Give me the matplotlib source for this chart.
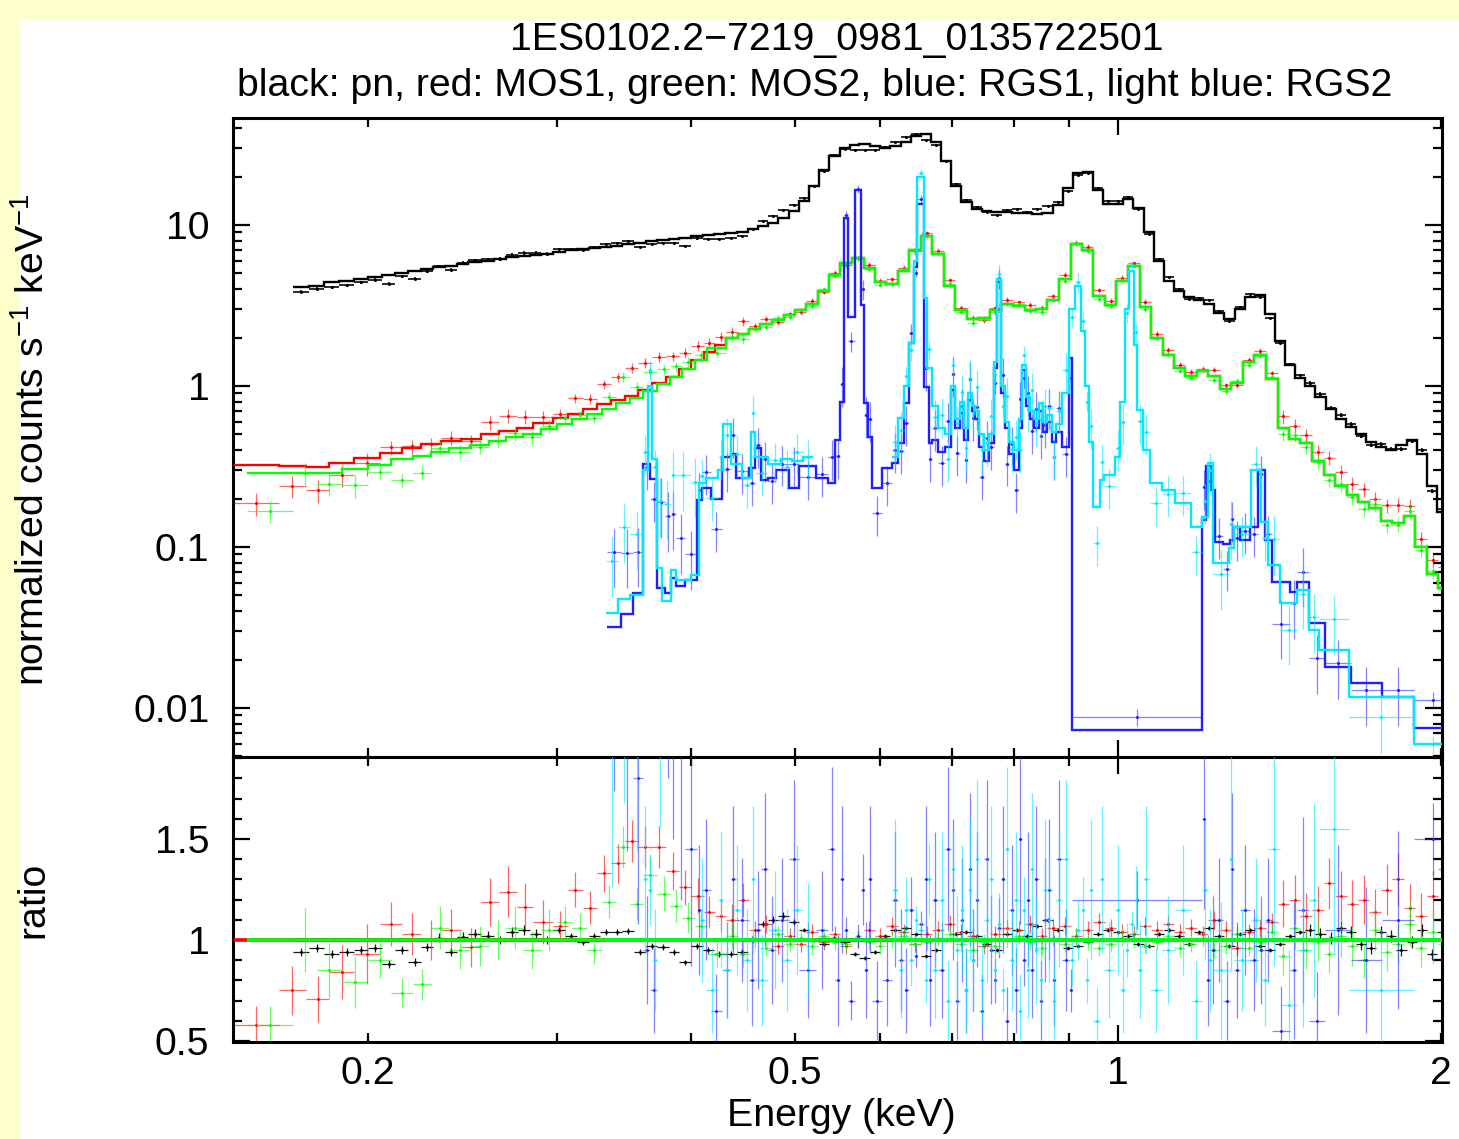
import numpy as np
import matplotlib
matplotlib.use("Agg")
import matplotlib.pyplot as plt
from matplotlib.patches import Rectangle
from matplotlib.ticker import (FixedLocator, FuncFormatter, LogLocator,
                               MultipleLocator, NullFormatter)

plt.rcParams['font.family'] = ['Liberation Sans', 'DejaVu Sans']
plt.rcParams['mathtext.fontset'] = 'custom'
plt.rcParams['mathtext.rm'] = 'Liberation Sans'

FS = 28.3

# ---------------- EPIC-pn (black) ----------------
pn_edges = [0.170, 0.176, 0.182, 0.188, 0.194, 0.200, 0.206, 0.212, 0.218, 0.224,
            0.230, 0.236, 0.242, 0.248, 0.255, 0.262, 0.269, 0.276, 0.283, 0.290,
            0.297, 0.305, 0.313, 0.321, 0.329, 0.337, 0.345, 0.354, 0.363, 0.372,
            0.381, 0.390, 0.400, 0.410, 0.420, 0.430, 0.441,
            0.452, 0.462, 0.472, 0.482, 0.493, 0.504, 0.515, 0.526, 0.538, 0.550,
            0.562, 0.574, 0.587, 0.600, 0.613, 0.627, 0.641, 0.655, 0.669, 0.684,
            0.699, 0.714, 0.730, 0.746, 0.762, 0.779, 0.796, 0.814, 0.832, 0.850,
            0.869, 0.888, 0.907, 0.927, 0.947, 0.968, 0.989, 1.011, 1.033, 1.056,
            1.079, 1.103, 1.127, 1.152, 1.177, 1.203, 1.229, 1.256, 1.284, 1.312,
            1.341, 1.370, 1.400, 1.431, 1.462, 1.494, 1.527, 1.561, 1.595, 1.630,
            1.666, 1.703, 1.740, 1.778, 1.817, 1.857, 1.898, 1.940, 1.983, 2.027]
pn_model = [4.1, 4.2, 4.4, 4.5, 4.65, 4.75, 4.9, 5.05, 5.2, 5.35,
            5.5, 5.6, 5.75, 5.85, 6.0, 6.15, 6.3, 6.4, 6.55, 6.65,
            6.8, 6.95, 7.05, 7.2, 7.3, 7.45, 7.6, 7.75, 7.9, 8.05,
            8.2, 8.35, 8.5, 8.65, 8.8, 8.95, 9.1,
            9.4, 9.8, 10.3, 11.0, 12.2, 14.0, 17.5, 22.0, 27.0, 30.0,
            31.5, 32.0, 31.0, 30.0, 31.0, 33.0, 35.5, 36.5, 33.0, 25.0,
            17.5, 13.8, 12.6, 12.3, 12.1, 12.0, 11.9, 11.8, 11.7, 11.9,
            13.3, 17.0, 21.0, 21.2, 16.5, 13.5, 13.6, 14.6, 12.8, 9.0,
            6.0, 4.5, 3.9, 3.55, 3.4, 3.25, 2.85, 2.6, 3.0, 3.55,
            3.7, 2.8, 1.9, 1.35, 1.12, 1.0, 0.86, 0.72, 0.62, 0.56,
            0.50, 0.45, 0.42, 0.40, 0.43, 0.46, 0.38, 0.24, 0.165]
pn_ratio = [0.94, 0.96, 0.93, 0.94, 0.95, 0.96, 0.88, 0.95, 0.89, 0.965,
            1.01, 0.94, 1.015, 1.03, 1.02, 1.00, 1.04, 1.05, 1.03, 1.00,
            1.05, 1.02, 0.99, 1.02, 1.04, 1.04, 1.045, 0.94, 0.97, 0.965,
            0.94, 0.89, 0.97, 0.95, 0.93, 0.93, 0.94,
            1.00, 1.08, 1.10, 1.12, 1.09, 1.05, 1.00, 0.98, 1.01, 0.99,
            0.93, 0.91, 0.94, 1.02, 1.05, 1.06, 1.03, 0.92, 0.95, 1.00,
            1.03, 1.04, 1.02, 0.98, 0.95, 1.03, 1.05, 1.02, 1.07, 1.10,
            1.05, 0.96, 0.97, 0.99, 1.03, 1.05, 1.04, 1.02, 0.98, 0.97,
            1.03, 1.05, 1.02, 0.98, 1.04, 1.06, 1.02, 0.97, 1.03, 1.05,
            0.97, 0.95, 0.98, 1.02, 1.04, 1.05, 1.03, 1.01, 1.06, 1.04,
            0.98, 0.96, 1.04, 1.02, 0.95, 0.99, 1.05, 0.93, 1.04]
pn_err_bounds = [0.30, 0.50, 1.50]
pn_err_rel = [0.022, 0.015, 0.010, 0.030]

# ---------------- MOS1 (red) / MOS2 (green) ----------------
mos1_lo_edges = [0.150, 0.165, 0.175, 0.184, 0.194, 0.205, 0.215, 0.224, 0.234, 0.244,
                 0.255, 0.265, 0.275, 0.285, 0.297, 0.307, 0.317, 0.327, 0.337, 0.347,
                 0.357, 0.368, 0.379, 0.390, 0.400, 0.411, 0.421]
mos1_lo_model = [0.322, 0.318, 0.316, 0.333, 0.355, 0.385, 0.41, 0.435, 0.455, 0.47,
                 0.50, 0.525, 0.55, 0.585, 0.63, 0.67, 0.72, 0.77, 0.82, 0.87,
                 0.95, 1.04, 1.14, 1.28, 1.45, 1.62, 1.80]
mos1_lo_ratio = [0.58, 0.75, 0.71, 0.84, 0.93, 1.08, 1.03, 1.00, 1.05, 0.965,
                 1.19, 1.24, 1.165, 1.09, 1.07, 1.25, 1.16, 1.33, 1.38, 1.49,
                 1.46, 1.46, 1.34, 1.26, 1.22, 1.14, 1.12]

mos2_lo_edges = [0.154, 0.170, 0.179, 0.189, 0.200, 0.210, 0.220, 0.229, 0.238, 0.249,
                 0.259, 0.269, 0.279, 0.290, 0.300, 0.310, 0.320, 0.330, 0.340, 0.351,
                 0.361, 0.372, 0.382, 0.392, 0.403, 0.414]
mos2_lo_model = [0.288, 0.288, 0.29, 0.305, 0.325, 0.35, 0.37, 0.39, 0.41, 0.43,
                 0.455, 0.48, 0.505, 0.54, 0.58, 0.62, 0.67, 0.72, 0.78, 0.84,
                 0.93, 1.03, 1.13, 1.27, 1.45, 1.72]
mos2_lo_ratio = [0.58, 1.00, 0.85, 0.79, 0.90, 0.74, 0.78, 1.06, 0.95, 0.97,
                 1.00, 1.06, 0.95, 1.05, 1.09, 1.06, 0.95, 1.19, 1.46, 1.18,
                 1.32, 1.23, 1.17, 1.11, 1.07, 0.93]

mos_hi_edges = [0.431, 0.442, 0.453, 0.464, 0.476, 0.488, 0.500, 0.512, 0.525, 0.538,
                0.551, 0.565, 0.579, 0.593, 0.608, 0.623, 0.639, 0.655, 0.671, 0.688,
                0.705, 0.723, 0.741, 0.759, 0.778, 0.798, 0.818, 0.838, 0.859, 0.881,
                0.903, 0.925, 0.948, 0.972, 0.996, 1.021, 1.047, 1.073, 1.100, 1.127,
                1.155, 1.184, 1.214, 1.244, 1.275, 1.307, 1.340, 1.373, 1.408, 1.443,
                1.479, 1.516, 1.554, 1.593, 1.633, 1.673, 1.715, 1.758, 1.802, 1.847,
                1.893, 1.941, 1.989, 2.039]
mos_hi_model = [1.98, 2.1, 2.25, 2.42, 2.58, 2.75, 2.95, 3.25, 3.9, 4.9,
                5.8, 6.2, 5.4, 4.4, 4.3, 5.2, 7.0, 8.6, 6.6, 4.2,
                2.95, 2.6, 2.65, 2.95, 3.25, 3.15, 2.95, 3.0, 3.4, 4.6,
                7.6, 7.0, 3.6, 3.2, 4.5, 5.6, 3.1, 2.0, 1.55, 1.3,
                1.15, 1.24, 1.15, 0.96, 1.05, 1.40, 1.56, 1.10, 0.55, 0.47,
                0.44, 0.34, 0.28, 0.24, 0.21, 0.19, 0.175, 0.145, 0.14, 0.155,
                0.10, 0.068, 0.056]
mos1_hi_ratio = [1.10, 1.20, 1.05, 1.08, 0.97, 1.02, 0.98, 1.04, 0.99, 1.03,
                 0.97, 1.00, 1.05, 1.02, 1.07, 1.04, 0.98, 1.03, 1.05, 1.08,
                 1.04, 1.02, 0.97, 1.03, 1.06, 1.05, 1.08, 1.02, 1.06, 1.07,
                 1.02, 1.05, 1.09, 1.06, 1.04, 1.03, 1.07, 1.05, 1.08, 1.04,
                 1.06, 1.03, 1.10, 1.05, 0.96, 1.04, 1.06, 1.09, 1.18, 1.20,
                 1.12, 1.15, 1.28, 1.22, 1.18, 1.20, 1.14, 1.25, 1.30, 1.16,
                 1.12, 1.22, 1.35]
mos2_hi_ratio = [1.02, 0.93, 1.00, 0.96, 1.03, 0.98, 1.01, 0.97, 1.02, 0.99,
                 0.98, 1.01, 0.99, 0.97, 1.00, 1.02, 0.98, 0.99, 1.01, 1.03,
                 0.98, 0.95, 0.99, 0.97, 1.00, 1.02, 0.99, 0.96, 1.01, 0.98,
                 1.01, 0.99, 0.96, 0.98, 1.01, 1.00, 0.97, 0.99, 1.02, 0.96,
                 0.98, 1.01, 0.95, 0.97, 1.03, 0.96, 0.99, 1.04, 0.92, 1.06,
                 0.95, 0.99, 0.93, 1.02, 0.97, 0.90, 1.05, 0.94, 0.98, 1.08,
                 0.96, 1.04, 0.98]
mos_err_bounds = [0.20, 0.30, 0.45, 1.40]
mos_err_rel = [0.16, 0.10, 0.07, 0.04, 0.10]

# ---------------- RGS1 (blue) ----------------
rgs1_edges = [0.334, 0.344, 0.353, 0.361, 0.366, 0.372, 0.378, 0.383, 0.387, 0.395,
              0.405, 0.409, 0.417, 0.427, 0.436, 0.440, 0.453, 0.459, 0.465, 0.472,
              0.480, 0.493, 0.504, 0.523, 0.537, 0.545, 0.551, 0.555, 0.560, 0.568,
              0.576, 0.580, 0.585, 0.590, 0.602, 0.615, 0.624, 0.631, 0.638, 0.645,
              0.650, 0.659, 0.666, 0.670, 0.680, 0.690, 0.698, 0.704, 0.712, 0.718,
              0.724, 0.730, 0.736, 0.742, 0.750, 0.758, 0.766, 0.771, 0.778, 0.784,
              0.792, 0.800, 0.808, 0.813, 0.820, 0.827, 0.835, 0.843, 0.851, 0.859,
              0.867, 0.875, 0.887, 0.900, 0.906, 1.196, 1.208, 1.220, 1.232, 1.252,
              1.272, 1.281, 1.298, 1.326, 1.350, 1.370, 1.390, 1.447, 1.469, 1.506,
              1.560, 1.647, 1.763, 1.887, 2.050]
rgs1_model = [0.032, 0.0385, 0.052, 0.33, 0.265, 0.056, 0.052, 0.064, 0.057, 0.062,
              0.196, 0.233, 0.198, 0.36, 0.38, 0.27, 0.31, 0.41, 0.26, 0.27,
              0.30, 0.233, 0.32, 0.27, 0.25, 0.46, 0.79, 11.0, 2.7, 16.5,
              3.2, 0.78, 0.48, 0.233, 0.31, 0.333, 0.44, 0.785, 1.85, 5.5,
              13.5, 0.99, 0.44, 0.46, 0.39, 0.42, 0.95, 0.55, 0.68, 0.46,
              0.82, 0.70, 0.62, 0.42, 0.34, 0.44, 1.3, 4.4, 0.9, 0.55,
              0.38, 0.30, 0.55, 1.25, 0.75, 0.62, 0.55, 0.70, 0.52, 0.60,
              0.45, 0.52, 0.42, 1.5, 0.0073, 0.147, 0.32, 0.226, 0.107, 0.105,
              0.11, 0.133, 0.11, 0.133, 0.30, 0.11, 0.0607, 0.0525, 0.061, 0.0339,
              0.018, 0.0143, 0.0117, 0.0075]
rgs1_ratio = [2.9, 2.4, 1.8, 0.95, 0.75, 3.4, 3.0, 2.5, 2.0, 1.45,
              1.15, 1.25, 0.65, 0.85, 1.30, 1.10, 0.80, 1.05, 1.35, 0.95,
              1.10, 1.40, 0.85, 1.05, 1.45, 0.80, 1.30, 1.05, 0.70, 1.02,
              1.25, 0.85, 1.30, 0.70, 0.80, 1.20, 0.90, 0.75, 1.15, 0.92,
              1.08, 1.30, 0.80, 1.20, 0.85, 1.45, 1.25, 0.70, 1.10, 0.75,
              1.35, 0.90, 1.20, 0.65, 1.40, 0.95, 0.80, 1.06, 1.30, 0.60,
              1.15, 0.75, 1.50, 0.90, 1.20, 0.85, 1.30, 0.70, 1.10, 1.25,
              0.80, 1.40, 0.90, 0.75, 1.20, 1.60, 0.80, 0.95, 1.10, 0.70,
              1.35, 0.85, 1.15, 0.90, 0.95, 1.10, 0.55, 0.85, 1.15, 0.60,
              1.05, 0.90, 1.10, 1.50]

# ---------------- RGS2 (light blue), two pieces either side of the dead CCD ----------------
rgs2a_edges = [0.333, 0.342, 0.351, 0.3605, 0.3643, 0.3674, 0.372, 0.376, 0.383, 0.387,
               0.3995, 0.4066, 0.4125, 0.424, 0.428, 0.436, 0.446, 0.455, 0.459, 0.472,
               0.485, 0.497, 0.508, 0.519]
rgs2a_model = [0.039, 0.0475, 0.05, 0.30, 1.0, 0.35, 0.074, 0.046, 0.072, 0.062,
               0.067, 0.25, 0.27, 0.30, 0.58, 0.33, 0.27, 0.52, 0.36, 0.33,
               0.35, 0.34, 0.36]
rgs2a_ratio = [2.1, 2.8, 2.4, 1.3, 1.25, 0.9, 2.6, 4.0, 3.9, 4.5,
               3.8, 1.1, 0.75, 1.2, 0.85, 1.15, 0.9, 1.3, 0.8, 1.05,
               0.9, 1.15, 1.0]

rgs2b_edges = [0.615, 0.624, 0.631, 0.638, 0.645, 0.650, 0.659, 0.664, 0.670, 0.680,
               0.690, 0.698, 0.704, 0.712, 0.718, 0.724, 0.730, 0.736, 0.742, 0.750,
               0.758, 0.766, 0.771, 0.778, 0.784, 0.792, 0.800, 0.808, 0.813, 0.820,
               0.827, 0.835, 0.843, 0.851, 0.859, 0.867, 0.875, 0.887, 0.900, 0.912,
               0.924, 0.932, 0.940, 0.948, 0.962, 0.970, 0.993, 1.005, 1.015, 1.024,
               1.035, 1.042, 1.054, 1.070, 1.098, 1.130, 1.170, 1.196, 1.212, 1.226,
               1.268, 1.281, 1.330, 1.360, 1.380, 1.415, 1.469, 1.506, 1.539, 1.640,
               1.887, 2.050]
rgs2b_model = [0.36, 0.63, 1.0, 1.85, 6.0, 20.0, 3.5, 1.3, 0.75, 0.55,
               0.50, 1.0, 0.62, 0.80, 0.55, 0.90, 0.75, 0.70, 0.50, 0.40,
               0.50, 1.4, 4.6, 1.0, 0.60, 0.45, 0.40, 0.62, 1.35, 0.85,
               0.70, 0.62, 0.78, 0.60, 0.66, 0.52, 0.58, 0.90, 3.0, 4.2,
               2.2, 1.0, 0.45, 0.177, 0.26, 0.28, 0.36, 0.8, 3.0, 5.2,
               1.8, 0.71, 0.40, 0.25, 0.226, 0.188, 0.133, 0.154, 0.333, 0.08,
               0.099, 0.133, 0.30, 0.143, 0.077, 0.045, 0.054, 0.0305, 0.0229, 0.0117,
               0.006]
rgs2b_ratio = [1.25, 0.85, 1.15, 0.90, 1.10, 1.05, 0.80, 1.30, 0.85, 1.20,
               0.70, 1.35, 0.95, 1.15, 0.75, 1.25, 0.90, 1.40, 0.80, 1.10,
               1.30, 0.85, 1.08, 0.75, 1.45, 0.90, 1.20, 0.65, 1.15, 0.85,
               1.35, 0.95, 0.80, 1.25, 1.10, 0.70, 1.20, 1.40, 0.90, 1.05,
               1.15, 0.80, 1.25, 0.60, 1.30, 0.85, 1.15, 0.75, 0.95, 1.08,
               1.20, 0.85, 1.30, 0.75, 0.95, 1.15, 0.70, 1.25, 0.90, 0.85,
               1.40, 0.90, 1.10, 0.80, 1.45, 0.68, 0.95, 1.20, 1.55, 0.75,
               1.00]
rgs_err_bounds = [0.008, 0.1, 1.0, 5.0]
rgs_err_rel = [0.12, 0.40, 0.28, 0.14, 0.06]

title_top = "1ES0102.2\u22127219_0981_0135722501"
title_sub = "black: pn, red: MOS1, green: MOS2, blue: RGS1, light blue: RGS2"

BLACK, RED, GREEN, BLUE, CYAN = 'black', '#ff0000', '#00ff00', '#1f1fff', '#00eaff'


def spectrum(edges, model, ratio):
    edges = np.asarray(edges, float)
    model = np.asarray(model, float)
    ratio = np.asarray(ratio, float)
    assert len(edges) == len(model) + 1 == len(ratio) + 1, (len(edges), len(model), len(ratio))
    lo, hi = edges[:-1], edges[1:]
    return edges, np.sqrt(lo * hi), lo, hi, model, ratio


def lookup(x, bounds, values):
    return np.asarray(values)[np.digitize(x, bounds)]


fig = plt.figure(figsize=(14.59, 11.39), dpi=100, facecolor='#ffffcc')
fig.add_artist(Rectangle((20 / 1459, 0), 1, 1 - 20 / 1139, transform=fig.transFigure,
                         facecolor='white', edgecolor='none', zorder=-5))

left, width = 233 / 1459, (1442 - 233) / 1459
ax1 = fig.add_axes([left, 1 - 757 / 1139, width, (757 - 118) / 1139])
ax2 = fig.add_axes([left, 1 - 1042 / 1139, width, (1042 - 757) / 1139])

groups = [
    (spectrum(pn_edges, pn_model, pn_ratio), 'E', pn_err_bounds, pn_err_rel, BLACK, 0.9),
    (spectrum(mos1_lo_edges + mos_hi_edges, mos1_lo_model + mos_hi_model,
              mos1_lo_ratio + mos1_hi_ratio), 'E', mos_err_bounds, mos_err_rel, RED, 0.6),
    (spectrum(mos2_lo_edges + mos_hi_edges, mos2_lo_model + mos_hi_model,
              mos2_lo_ratio + mos2_hi_ratio), 'E', mos_err_bounds, mos_err_rel, GREEN, 0.6),
    (spectrum(rgs1_edges, rgs1_model, rgs1_ratio), 'M', rgs_err_bounds, rgs_err_rel, BLUE, 0.55),
    (spectrum(rgs2a_edges, rgs2a_model, rgs2a_ratio), 'M', rgs_err_bounds, rgs_err_rel, CYAN, 0.6),
    (spectrum(rgs2b_edges, rgs2b_model, rgs2b_ratio), 'M', rgs_err_bounds, rgs_err_rel, CYAN, 0.6),
]

z = 2
for (edges, cen, lo, hi, model, ratio), key, bounds, rel, color, alpha in groups:
    err = lookup(cen if key == 'E' else model, bounds, rel)
    data = model * ratio
    xerr = [cen - lo, hi - cen]
    ew = 1.3 if color == BLACK else 0.9
    ax1.errorbar(cen, data, xerr=xerr, yerr=data * err, fmt='none', ecolor=color,
                 elinewidth=ew, alpha=alpha, zorder=z)
    ax1.plot(cen, data, '.', ms=2.4, color=color, zorder=z)
    ax1.stairs(model, edges, baseline=None, color=color, lw=1.7, zorder=z + 0.5)
    ax2.errorbar(cen, ratio, xerr=xerr, yerr=ratio * err, fmt='none', ecolor=color,
                 elinewidth=0.9, alpha=alpha, zorder=z)
    ax2.plot(cen, ratio, '.', ms=2.2, color=color, zorder=z)
    z += 1

# every model is unity in the ratio panel; green ends up on top
for (edges, cen, lo, hi, model, ratio), key, bounds, rel, color, alpha in groups:
    order = 30 if color == GREEN else 20
    ax2.stairs(np.ones(len(model)), edges, baseline=None, color=color, lw=2.6,
               zorder=order)

for ax in (ax1, ax2):
    ax.set_xscale('log')
    ax.set_xlim(0.1496, 2.004)
    ax.xaxis.set_major_locator(FixedLocator([1.0]))
    ax.xaxis.set_minor_locator(FixedLocator([0.2, 0.3, 0.4, 0.5, 0.6, 0.7, 0.8, 0.9, 2.0]))
    ax.tick_params(which='both', direction='in', top=True, right=True, width=1.6,
                   labelsize=FS, colors='black')
    ax.tick_params(which='major', length=12.5)
    ax.tick_params(which='minor', length=6.2)
    ax.tick_params(axis='y', which='both', pad=17)
    ax.tick_params(axis='x', which='both', pad=10)
    for s in ax.spines.values():
        s.set_linewidth(2.2)

ax1.xaxis.set_major_formatter(NullFormatter())
ax1.xaxis.set_minor_formatter(NullFormatter())
ax2.xaxis.set_major_formatter(FuncFormatter(lambda v, p: '%g' % v))
ax2.xaxis.set_minor_formatter(
    FuncFormatter(lambda v, p: '%g' % v if round(v, 3) in (0.2, 0.5, 2.0) else ''))

ax1.set_yscale('log')
ax1.set_ylim(0.00496, 46.2)
ax1.yaxis.set_major_locator(LogLocator(base=10, numticks=12))
ax1.yaxis.set_minor_locator(LogLocator(base=10, subs=np.arange(2, 10), numticks=12))
ax1.yaxis.set_major_formatter(FuncFormatter(lambda v, p: '%g' % v))
ax1.yaxis.set_minor_formatter(NullFormatter())

ax2.set_ylim(0.495, 1.906)
ax2.yaxis.set_major_locator(MultipleLocator(0.5))
ax2.yaxis.set_minor_locator(MultipleLocator(0.1))
ax2.yaxis.set_major_formatter(FuncFormatter(lambda v, p: '%g' % v))

fig.text(837 / 1459, 1 - 40 / 1139, title_top, ha='center', va='center', fontsize=FS)
fig.text(815 / 1459, 1 - 86 / 1139, title_sub, ha='center', va='center', fontsize=FS)
fig.text(33 / 1459, 1 - 440 / 1139,
         r'normalized counts s$^{\mathregular{-1}}$ keV$^{\mathregular{-1}}$',
         rotation=90, ha='center', va='center', fontsize=FS)
fig.text(33 / 1459, 1 - 900 / 1139, 'ratio', rotation=90, ha='center', va='center',
         fontsize=FS)
fig.text(841 / 1459, 1 - 1116 / 1139, 'Energy (keV)', ha='center', va='center', fontsize=FS)

fig.savefig('out.png', dpi=100, facecolor=fig.get_facecolor())
